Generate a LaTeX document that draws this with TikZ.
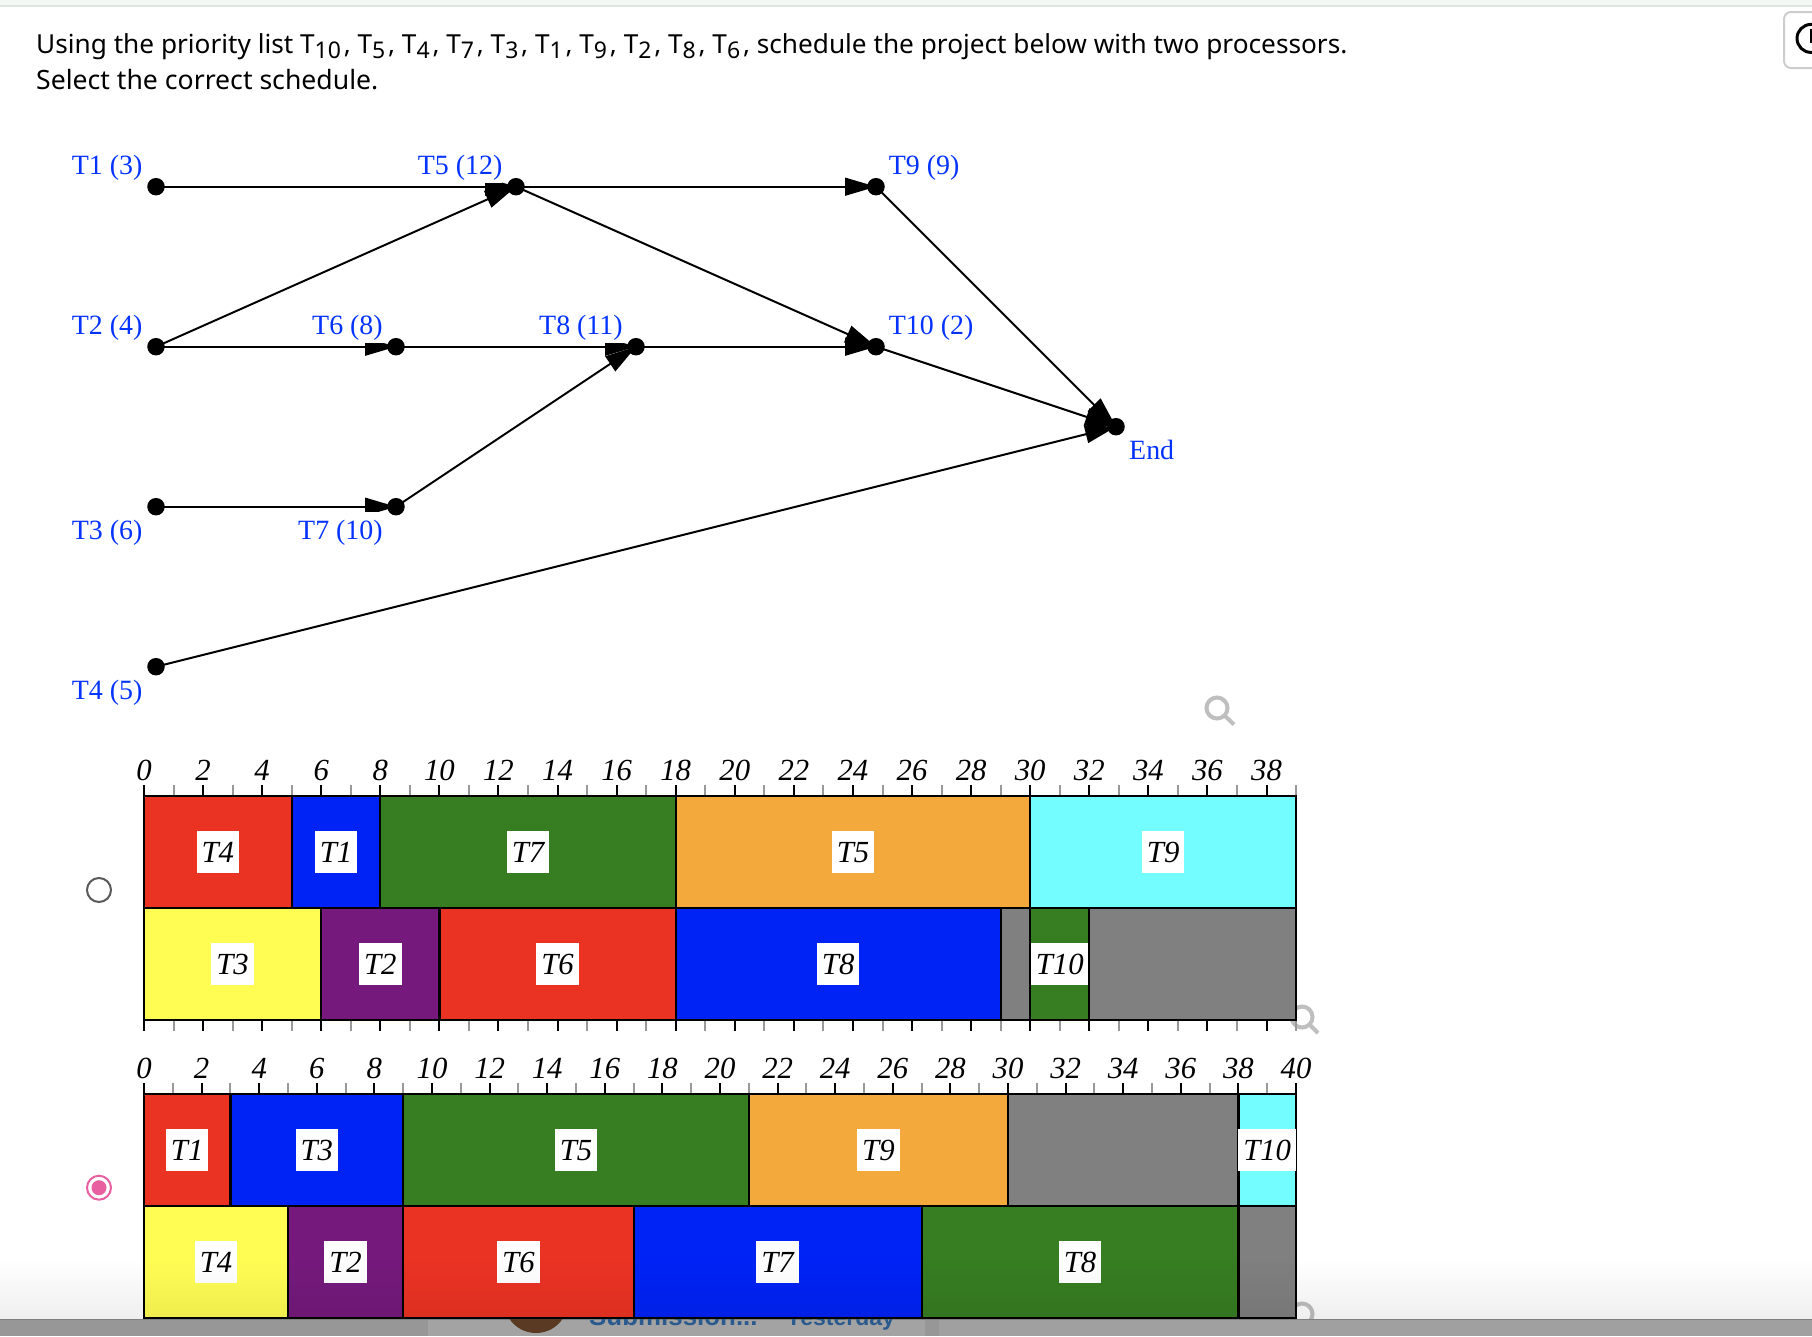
\documentclass[tikz,border=0pt]{standalone}
\usepackage{fontspec}
\setmainfont{Liberation Serif}
\newfontfamily\uifont{Noto Sans}
\newfontfamily\barfont{Liberation Sans}
\usetikzlibrary{arrows.meta}
\definecolor{ptred}{HTML}{EB3324}
\definecolor{ptblue}{HTML}{0023F5}
\definecolor{ptgreen}{HTML}{377D22}
\definecolor{ptorange}{HTML}{F3A93C}
\definecolor{ptcyan}{HTML}{73FDFF}
\definecolor{ptyellow}{HTML}{FFFD54}
\definecolor{ptpurple}{HTML}{751A7C}
\definecolor{ptgray}{HTML}{808080}
\definecolor{lblblue}{HTML}{0433FF}
\definecolor{radiopink}{HTML}{E8609F}
\definecolor{topband}{HTML}{F3F8F5}
\definecolor{topline}{HTML}{DDE5E1}
\definecolor{bardark}{HTML}{979797}
\definecolor{barmid}{HTML}{A3A3A3}
\definecolor{barright}{HTML}{A0A0A0}
\definecolor{avatar}{HTML}{5A3A22}
\definecolor{bartext}{HTML}{2A5A8E}
\pgfdeclarearrow{
  name = TaskTip,
  setup code = {
    \pgfarrowssettipend{0pt}
    \pgfarrowssetlineend{-15pt}
    \pgfarrowssetvisualbackend{-31pt}
    \pgfarrowssetbackend{-31pt}
    \pgfarrowshullpoint{0pt}{0pt}
    \pgfarrowshullpoint{-31pt}{9.2pt}
    \pgfarrowshullpoint{-31pt}{-9.2pt}
  },
  drawing code = {
    \pgfpathmoveto{\pgfpoint{-31pt}{9.2pt}}
    \pgfpathlineto{\pgfpoint{0pt}{0pt}}
    \pgfpathlineto{\pgfpoint{-31pt}{-9.2pt}}
    \pgfpathclose
    \pgfusepathqfill
  }
}
\tikzset{
  taskdot/.style={circle,fill=black,inner sep=0pt,minimum size=17.5pt},
  tasklabel/.style={anchor=base west,inner sep=0pt,fill=white,text height=27.4pt,text depth=8.7pt,text=lblblue,font=\fontsize{27.9}{32}\selectfont},
  link/.style={draw=black,line width=2pt,-{TaskTip}},
  barlabel/.style={fill=white,inner xsep=5pt,inner ysep=0pt,text height=31.4pt,text depth=10pt,font=\fontsize{30.7}{36}\selectfont\itshape},
  ticknum/.style={anchor=base,inner sep=0pt,font=\fontsize{30.7}{36}\selectfont\itshape},
  headtext/.style={anchor=base west,inner sep=0pt,font=\uifont\fontsize{26.2}{32}\selectfont},
  lens/.style={draw=black!25,line width=4pt},
  segbox/.style={draw=black,line width=2.2pt}
}
\newcommand{\ssb}[1]{\raisebox{-5.5pt}{\fontsize{23}{26}\selectfont #1}\hspace{2.8pt}}
% start, end, top y, px per unit, colour, label
\newcommand{\taskseg}[6]{%
  \path[segbox,fill=#5] ({144+#1*#4},#3) rectangle ({144+#2*#4},#3+112);
  \if\relax\detokenize{#6}\relax\else
    \node[barlabel] (#6-#3) at ({144+(#1+#2)/2*#4},#3+56) {#6};
  \fi
}
% last unit, y of axis line, px per unit, tick direction sign
\newcommand{\taskticks}[4]{%
  \foreach \k in {0,...,#1}{
    \pgfmathtruncatemacro{\odd}{mod(\k,2)}
    \ifnum\odd=1
      \draw[line width=2pt,draw=black!40] ({144+\k*#3},#2) -- ++(0,#4*11);
    \else
      \draw[line width=2pt,draw=black] ({144+\k*#3},#2) -- ++(0,#4*11);
    \fi
  }
}
\begin{document}
\begin{tikzpicture}[x=1pt,y=-1pt]
\useasboundingbox (0,0) rectangle (1812,1336);
\fill[white] (0,0) rectangle (1812,1336);
% browser chrome at the top
\fill[topband] (0,0) rectangle (1812,5);
\fill[topline] (0,5) rectangle (1812,6.8);
\draw[draw=black!20,line width=2pt,rounded corners=7pt] (1840,12) -- (1784,12) -- (1784,68) -- (1840,68);
\draw[line width=3pt] (1811,38.4) circle[radius=14];
\draw[line width=3pt] (1811,29) -- (1811,41) -- (1820,41);
% question
\node[headtext] (q1) at (36,53) {Using the priority list T\ssb{10}, T\ssb{5}, T\ssb{4}, T\ssb{7}, T\ssb{3}, T\ssb{1}, T\ssb{9}, T\ssb{2}, T\ssb{8}, T\ssb{6}, schedule the project below with two processors.};
\node[headtext] (q2) at (36,89) {\fontsize{26.6}{32}\selectfont Select the correct schedule.};
% precedence graph
\node[taskdot] (t1) at (156,186.7) {};
\node[taskdot] (t5) at (516,186.7) {};
\node[taskdot] (t9) at (876,186.7) {};
\node[taskdot] (t2) at (156,346.7) {};
\node[taskdot] (t6) at (396,346.7) {};
\node[taskdot] (t8) at (636,346.7) {};
\node[taskdot] (t10) at (876,346.7) {};
\node[taskdot] (t3) at (156,506.7) {};
\node[taskdot] (t7) at (396,506.7) {};
\node[taskdot] (t4) at (156,666.7) {};
\node[taskdot] (end) at (1116,426.7) {};
\draw[link] (t1.center) -- (t5.center);
\draw[link] (t2.center) -- (t5.center);
\draw[link] (t5.center) -- (t9.center);
\draw[link] (t5.center) -- (t10.center);
\draw[link] (t2.center) -- (t6.center);
\draw[link] (t6.center) -- (t8.center);
\draw[link] (t8.center) -- (t10.center);
\draw[link] (t3.center) -- (t7.center);
\draw[link] (t7.center) -- (t8.center);
\draw[link] (t9.center) -- (end.center);
\draw[link] (t10.center) -- (end.center);
\draw[link] (t4.center) -- (end.center);
% labels carry a white box that masks the arrowheads behind them
\node[tasklabel] (l1) at (71.6,174) {T1 (3)};
\node[tasklabel] (l5) at (417.7,174) {T5 (12)};
\node[tasklabel] (l9) at (888.7,174) {T9 (9)};
\node[tasklabel] (l2) at (71.6,334) {T2 (4)};
\node[tasklabel] (l6) at (312,334) {T6 (8)};
\node[tasklabel] (l8) at (539,334) {T8 (11)};
\node[tasklabel] (l10) at (888.7,334) {T10 (2)};
\node[tasklabel] (l3) at (71.6,539.3) {T3 (6)};
\node[tasklabel] (l7) at (298,539.3) {T7 (10)};
\node[tasklabel] (l4) at (71.6,699.3) {T4 (5)};
\node[tasklabel] (lend) at (1129,459.3) {End};
% magnifier icons
\draw[lens] (1217,708) circle[radius=10.5];
\draw[lens] (1224.5,715.5) -- (1234,724.5);
\draw[lens] (1302,1017) circle[radius=10.5];
\draw[lens] (1309.5,1024.5) -- (1318,1033);
\draw[lens] (1302,1314) circle[radius=10.5];
% radio buttons
\draw[draw=black!65,line width=2pt] (99,890) circle[radius=12];
\draw[draw=radiopink,line width=2pt] (99,1187.7) circle[radius=12];
\fill[radiopink] (99,1187.7) circle[radius=7.5];
% bottom bar behind the second chart
\fill[bardark] (0,1319) rectangle (428,1336);
\fill[barmid] (428,1319) rectangle (925,1336);
\fill[bardark] (925,1319) rectangle (939,1336);
\fill[barright] (939,1319) rectangle (1812,1336);
\draw[draw=black!50,line width=1pt] (0,1319.5) -- (1812,1319.5);
\begin{scope}
  \clip (0,1319) rectangle (1812,1336);
  \fill[avatar] (536,1301) circle[radius=32];
  \node[anchor=base west,inner sep=0pt,text=bartext,font=\barfont\bfseries\fontsize{25.9}{32}\selectfont] (sub) at (589,1325) {Submission...};
  \node[anchor=base west,inner sep=0pt,text=bartext,font=\barfont\bfseries\fontsize{23}{28}\selectfont] (yes) at (786,1325) {Yesterday};
\end{scope}
% chart 1
\taskticks{39}{796}{29.54}{-1}
\taskticks{39}{1020}{29.54}{1}
\foreach \k in {0,2,...,38}{
  \node[ticknum] (a\k) at ({144+\k*29.54},780) {\k};
}
\taskseg{0}{5}{796}{29.54}{ptred}{T4}
\taskseg{5}{8}{796}{29.54}{ptblue}{T1}
\taskseg{8}{18}{796}{29.54}{ptgreen}{T7}
\taskseg{18}{30}{796}{29.54}{ptorange}{T5}
\taskseg{30}{39}{796}{29.54}{ptcyan}{T9}
\taskseg{0}{6}{908}{29.54}{ptyellow}{T3}
\taskseg{6}{10}{908}{29.54}{ptpurple}{T2}
\taskseg{10}{18}{908}{29.54}{ptred}{T6}
\taskseg{18}{29}{908}{29.54}{ptblue}{T8}
\taskseg{29}{30}{908}{29.54}{ptgray}{}
\taskseg{30}{32}{908}{29.54}{ptgreen}{T10}
\taskseg{32}{39}{908}{29.54}{ptgray}{}
% chart 2
\taskticks{40}{1094}{28.8}{-1}
\foreach \k in {0,2,...,40}{
  \node[ticknum] (b\k) at ({144+\k*28.8},1078) {\k};
}
\taskseg{0}{3}{1094}{28.8}{ptred}{T1}
\taskseg{3}{9}{1094}{28.8}{ptblue}{T3}
\taskseg{9}{21}{1094}{28.8}{ptgreen}{T5}
\taskseg{21}{30}{1094}{28.8}{ptorange}{T9}
\taskseg{30}{38}{1094}{28.8}{ptgray}{}
\taskseg{38}{40}{1094}{28.8}{ptcyan}{T10}
\taskseg{0}{5}{1206}{28.8}{ptyellow}{T4}
\taskseg{5}{9}{1206}{28.8}{ptpurple}{T2}
\taskseg{9}{17}{1206}{28.8}{ptred}{T6}
\taskseg{17}{27}{1206}{28.8}{ptblue}{T7}
\taskseg{27}{38}{1206}{28.8}{ptgreen}{T8}
\taskseg{38}{40}{1206}{28.8}{ptgray}{}
% fading overlay above the bottom bar
\foreach \s in {1,...,19}{
  \pgfmathsetmacro{\op}{\s*0.0033}
  \fill[black,opacity=\op] (0,{1262+(\s-1)*3}) rectangle (1812,{1262+\s*3});
}
\end{tikzpicture}
\end{document}
